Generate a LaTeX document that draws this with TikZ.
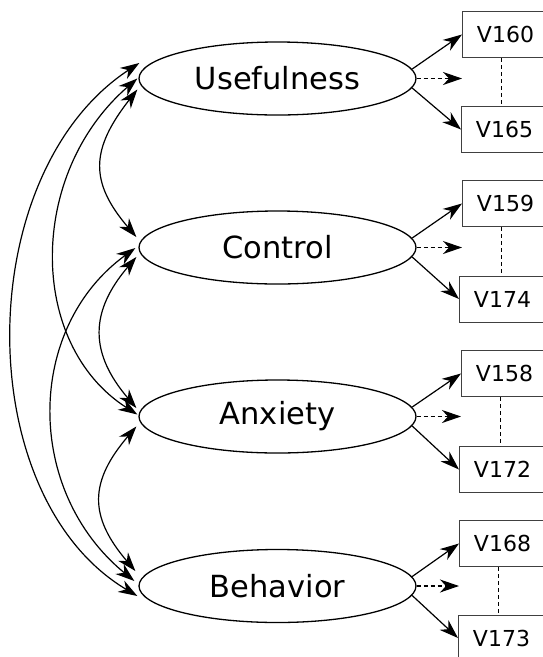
\documentclass[tikz,border=0pt]{standalone}
\usepackage{fontspec}
\setmainfont{DejaVu Sans}
\usetikzlibrary{shapes.geometric,arrows.meta,calc}

\begin{document}
\begin{tikzpicture}[x=1pt,y=-1pt,
  >={Stealth[length=19pt,width=13pt,inset=6pt]},
  latent/.style={ellipse,draw,line width=1.3pt,minimum width=277pt,
    minimum height=73pt,inner sep=0pt,font=\fontsize{30.5}{36}\selectfont},
  manifest/.style={rectangle,draw=black!75,line width=1pt,anchor=west,
    minimum width=86pt,minimum height=46pt,inner sep=0pt,
    font=\fontsize{22}{26}\selectfont},
  load/.style={->,line width=1.2pt},
  hidden/.style={->,line width=1.1pt,dash pattern=on 4pt off 3pt},
  link/.style={line width=1pt,dash pattern=on 4pt off 3pt},
  cov/.style={<->,line width=1.2pt}]

\useasboundingbox (0,0) rectangle (543,657);

% latent factors
\node[latent] (use) at (277.5,78.5)  {Usefulness};
\node[latent] (con) at (277.5,247.5) {Control};
\node[latent] (anx) at (277.5,416.5) {Anxiety};
\node[latent] (beh) at (277.5,586)   {Behavior};

% first and last indicator of each factor
\node[manifest] (v160) at (462,34.5)  {V160};
\node[manifest] (v165) at (461,129.5) {V165};
\node[manifest] (v159) at (462,203.5) {V159};
\node[manifest] (v174) at (459,299)   {V174};
\node[manifest] (v158) at (461,373.5) {V158};
\node[manifest] (v172) at (459,469.5) {V172};
\node[manifest] (v168) at (459,543.5) {V168};
\node[manifest] (v173) at (458,638)   {V173};

% loadings
\foreach \f/\a/\b in {use/v160/v165, con/v159/v174, anx/v158/v172, beh/v168/v173}{
  \draw[load] (\f.4) -- (\a.west);
  \draw[load] (\f.-4) -- (\b.west);
  \draw[hidden] (\f.east) -- (\f.east -| \a.west);
  \draw[link] ([xshift=-4pt]\a.south) -- ([xshift=-4pt]\a.south |- \b.north);
}

% end points of the covariance arcs
\coordinate (uB) at ($(use.west)+(1,-15.5)$);
\coordinate (uA) at ($(use.west)+(-1,0)$);
\coordinate (uC) at ($(use.west)+(-1,11)$);
\coordinate (cU) at ($(con.west)+(-2,-10.5)$);
\coordinate (cB) at ($(con.west)+(-3,0.5)$);
\coordinate (cA) at ($(con.west)+(-2,9.5)$);
\coordinate (aC) at ($(anx.west)+(-2,-8.5)$);
\coordinate (aU) at ($(anx.west)+(-1,-2)$);
\coordinate (aB) at ($(anx.west)+(-2,10)$);
\coordinate (bA) at ($(beh.west)+(-3,-15)$);
\coordinate (bC) at ($(beh.west)+(-4,-5)$);
\coordinate (bU) at ($(beh.west)+(-1,10)$);

% covariances
\draw[cov] (uC) .. controls +(-47,60)   and +(-47,-55)   .. (cU);
\draw[cov] (cA) .. controls +(-47,55)   and +(-47,-55)   .. (aC);
\draw[cov] (aB) .. controls +(-47,55)   and +(-47,-55)   .. (bA);
\draw[cov] (uA) .. controls +(-110,95)  and +(-110,-70)  .. (aU);
\draw[cov] (cB) .. controls +(-110,80)  and +(-110,-90)  .. (bC);
\draw[cov] (uB) .. controls +(-168,110) and +(-168,-100) .. (bU);

\end{tikzpicture}
\end{document}
